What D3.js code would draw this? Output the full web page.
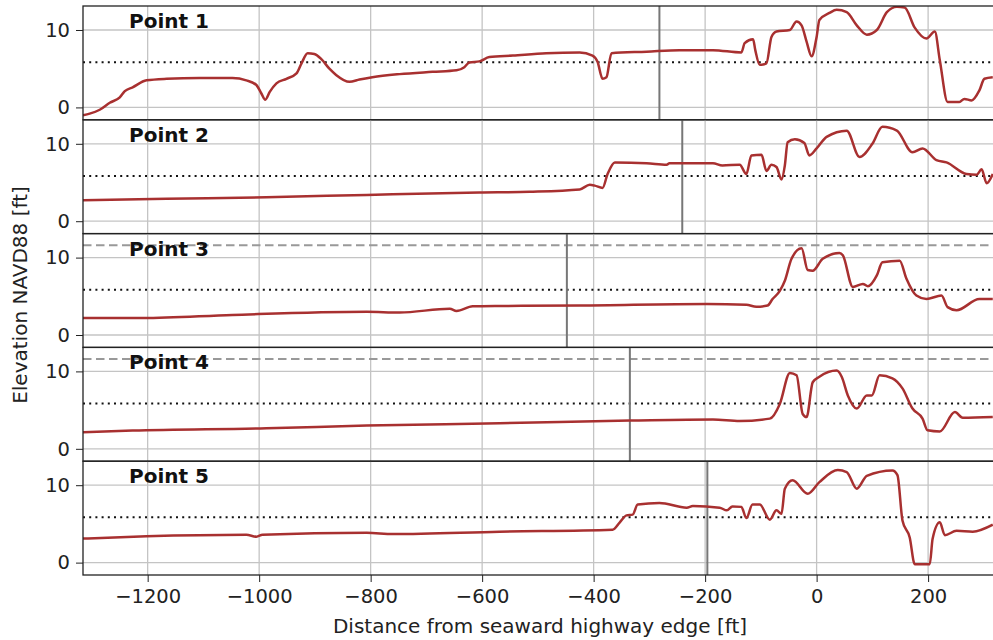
<!DOCTYPE html>
<html>
<head>
<meta charset="utf-8">
<script src="https://cdn.jsdelivr.net/npm/d3@7"></script>
<style>
  body { margin: 0; background: #fff; }
  text { font-family: "DejaVu Sans", sans-serif; }
</style>
</head>
<body>
<div id="graph"></div>
<script>
// elevation profiles [distance ft, elevation ft]
let profile1 = [[-1316,-1.0],[-1304,-0.8],[-1286,-0.3],[-1268,0.6],[-1250,1.3],[-1241,2.1],[-1227,2.6],[-1202,3.5],
  [-1166,3.7],[-1107,3.8],[-1048,3.8],[-1023,3.5],[-1005,2.9],[-996,1.8],[-989,1.0],[-981,2.0],[-969,3.1],[-951,3.7],
  [-933,4.4],[-924,5.7],[-913,7.0],[-901,6.9],[-888,6.2],[-874,5.0],[-862,4.2],[-838,3.3],[-820,3.6],[-797,3.9],
  [-748,4.3],[-689,4.6],[-646,4.8],[-632,5.2],[-623,5.8],[-605,5.95],[-587,6.5],[-545,6.7],[-485,7.0],[-425,7.1],
  [-402,6.7],[-393,5.9],[-384,3.7],[-377,3.9],[-368,7.0],[-305,7.2],[-246,7.4],[-186,7.4],[-135,7.1],[-129,8.3],
  [-114,8.8],[-110,7.4],[-102,5.5],[-90,5.7],[-81,9.1],[-72,9.8],[-48,10.0],[-36,11.1],[-27,10.6],[-18,8.5],[-9,6.6],
  [0,9.1],[5,11.3],[23,12.2],[36,12.6],[54,12.3],[72,10.6],[90,9.4],[108,10.0],[126,12.3],[144,13.0],[158,12.9],
  [176,10.3],[197,8.9],[212,9.8],[221,6.1],[235,0.7],[256,0.7],[265,1.1],[278,0.9],[292,2.2],[301,3.7],[316,3.9]];
let profile2 = [[-1316,2.7],[-1166,2.9],[-987,3.1],[-807,3.4],[-605,3.7],[-515,3.8],[-425,4.1],[-407,4.7],[-398,4.6],
  [-384,4.3],[-375,6.1],[-362,7.6],[-305,7.5],[-269,7.3],[-264,7.5],[-186,7.5],[-169,7.2],[-138,7.3],[-126,6.1],
  [-117,8.5],[-99,8.6],[-90,6.5],[-81,7.3],[-72,7.0],[-63,5.4],[-57,7.2],[-52,10.2],[-39,10.6],[-22,10.1],[-13,8.5],
  [0,9.4],[18,10.9],[54,11.7],[77,8.3],[100,10.0],[118,12.2],[144,11.7],[172,8.9],[190,9.4],[215,7.9],[233,7.6],
  [269,6.1],[287,6.0],[296,6.7],[305,4.9],[316,6.1]];
let profile3 = [[-1316,2.2],[-1209,2.2],[-1048,2.6],[-807,3.0],[-748,2.9],[-658,3.4],[-646,3.1],[-617,3.7],[-569,3.75],
  [-425,3.8],[-197,4.0],[-126,3.9],[-108,3.65],[-88,3.8],[-79,4.65],[-66,5.7],[-57,7.0],[-45,9.85],[-27,11.2],
  [-16,8.4],[-7,8.3],[11,9.85],[41,10.6],[47,10.3],[65,6.2],[83,6.6],[92,6.3],[108,7.7],[118,9.4],[149,9.6],
  [161,7.3],[179,5.1],[197,4.65],[224,5.1],[235,3.6],[251,3.2],[292,4.65],[316,4.65]];
let profile4 = [[-1316,2.15],[-1227,2.35],[-987,2.65],[-807,3.0],[-569,3.3],[-335,3.65],[-186,3.8],[-138,3.6],
  [-84,3.9],[-66,5.8],[-48,9.8],[-36,9.5],[-25,4.5],[-18,4.1],[-7,8.6],[5,9.3],[36,10.1],[45,9.3],[56,6.9],[72,5.2],
  [90,6.9],[99,6.9],[113,9.5],[136,9.1],[154,7.8],[172,5.2],[190,3.9],[199,2.4],[221,2.25],[248,4.75],[262,4.0],[316,4.1]];
let profile5 = [[-1316,3.1],[-1202,3.4],[-1023,3.6],[-1005,3.35],[-994,3.6],[-807,3.85],[-760,3.7],[-569,4.0],
  [-366,4.25],[-353,5.2],[-341,6.1],[-330,6.2],[-321,7.5],[-282,7.7],[-233,7.1],[-222,7.3],[-174,7.1],[-161,6.75],
  [-151,7.25],[-135,7.2],[-126,5.75],[-115,7.5],[-102,7.5],[-84,5.55],[-72,6.75],[-63,6.3],[-57,9.55],[-43,10.65],
  [-16,8.9],[5,10.4],[38,11.95],[54,11.7],[72,9.55],[90,11.2],[136,11.9],[145,11.3],[154,5.45],[167,3.25],
  [176,-0.2],[203,-0.2],[208,3.05],[221,5.2],[230,3.55],[251,4.1],[280,4.0],[316,4.9]];

let profiles = [profile1, profile2, profile3, profile4, profile5];
let pointNames = ["Point 1", "Point 2", "Point 3", "Point 4", "Point 5"];
let markerX = [-282, -241, -448, -335, -196];       // grey vertical line per point
let dashedLevel = [null, null, 11.6, 11.6, null];   // grey dashed level
let dottedLevel = 5.85;                              // black dotted level
let xTicks = [-1200, -1000, -800, -600, -400, -200, 0, 200];
let yTicks = [0, 10];

let svgWidth = 993, svgHeight = 640;
let left = 83, right = 995, top0 = 6, panelH = 113.8;

let svg = d3.select("#graph").append("svg")
  .attr("width", svgWidth).attr("height", svgHeight);

let xScale = d3.scaleLinear().domain([-1316, 320]).range([left, right]);
let yScale = d3.scaleLinear().domain([-1.6, 13.1]).range([panelH, 0]);

svg.append("defs").append("clipPath").attr("id", "clip")
  .append("rect").attr("x", left).attr("y", 0).attr("width", right - left).attr("height", panelH);

let line = d3.line().curve(d3.curveMonotoneX).x(d => xScale(d[0])).y(d => yScale(d[1]));

profiles.forEach(function (data, i) {
  let g = svg.append("g").attr("transform", `translate(0,${top0 + i * panelH})`);
  let plot = g.append("g").attr("clip-path", "url(#clip)");

  // grid
  plot.selectAll(".vgrid").data(xTicks).enter().append("line")
    .attr("x1", d => xScale(d)).attr("x2", d => xScale(d))
    .attr("y1", 0).attr("y2", panelH)
    .style("stroke", "#c4c4c4").style("stroke-width", 1.3);
  plot.selectAll(".hgrid").data(yTicks).enter().append("line")
    .attr("x1", left).attr("x2", right)
    .attr("y1", d => yScale(d)).attr("y2", d => yScale(d))
    .style("stroke", "#c4c4c4").style("stroke-width", 1.3);

  // reference levels
  plot.append("line")
    .attr("x1", left).attr("x2", right)
    .attr("y1", yScale(dottedLevel)).attr("y2", yScale(dottedLevel))
    .style("stroke", "#111").style("stroke-width", 2).style("stroke-dasharray", "2,4.2");
  if (dashedLevel[i] !== null) {
    plot.append("line")
      .attr("x1", left).attr("x2", right)
      .attr("y1", yScale(dashedLevel[i])).attr("y2", yScale(dashedLevel[i]))
      .style("stroke", "#999").style("stroke-width", 2).style("stroke-dasharray", "8.5,4.5");
  }

  plot.append("line")
    .attr("x1", xScale(markerX[i])).attr("x2", xScale(markerX[i]))
    .attr("y1", 0).attr("y2", panelH)
    .style("stroke", "#777").style("stroke-width", 2);

  plot.append("path").datum(data)
    .attr("d", line)
    .style("fill", "none").style("stroke", "#a83030").style("stroke-width", 2.5)
    .style("stroke-linejoin", "round");

  // label
  g.append("text")
    .attr("x", 129).attr("y", 22)
    .style("font-size", "20px").style("font-weight", "bold").style("fill", "#111")
    .text(pointNames[i]);

  // y axis
  let yAxis = d3.axisLeft(yScale).tickValues(yTicks).tickSize(7).tickPadding(6);
  let ya = g.append("g").attr("transform", `translate(${left},0)`).call(yAxis);
  ya.select(".domain").remove();
  ya.selectAll("text").style("font-size", "19.5px").style("fill", "#222");
  ya.selectAll("line").style("stroke", "#222");

  if (i === profiles.length - 1) {
    let xAxis = d3.axisBottom(xScale).tickValues(xTicks).tickSize(7).tickPadding(7)
      .tickFormat(d => d3.format("d")(d).replace("-", "\u2212"));
    let xa = g.append("g").attr("transform", `translate(0,${panelH})`).call(xAxis);
    xa.select(".domain").remove();
    xa.selectAll("text").style("font-size", "19.5px").style("fill", "#222");
    xa.selectAll("line").style("stroke", "#222");
  }

  // frame
  g.append("rect")
    .attr("x", left).attr("y", 0).attr("width", right - left).attr("height", panelH)
    .style("fill", "none").style("stroke", "#222").style("stroke-width", 1.3);
});

svg.append("text")
  .attr("x", 540).attr("y", 633)
  .style("text-anchor", "middle").style("font-size", "20px").style("fill", "#222")
  .text("Distance from seaward highway edge [ft]");

svg.append("text")
  .attr("transform", "translate(27,295) rotate(-90)")
  .style("text-anchor", "middle").style("font-size", "20px").style("fill", "#222")
  .text("Elevation NAVD88 [ft]");
</script>
</body>
</html>
